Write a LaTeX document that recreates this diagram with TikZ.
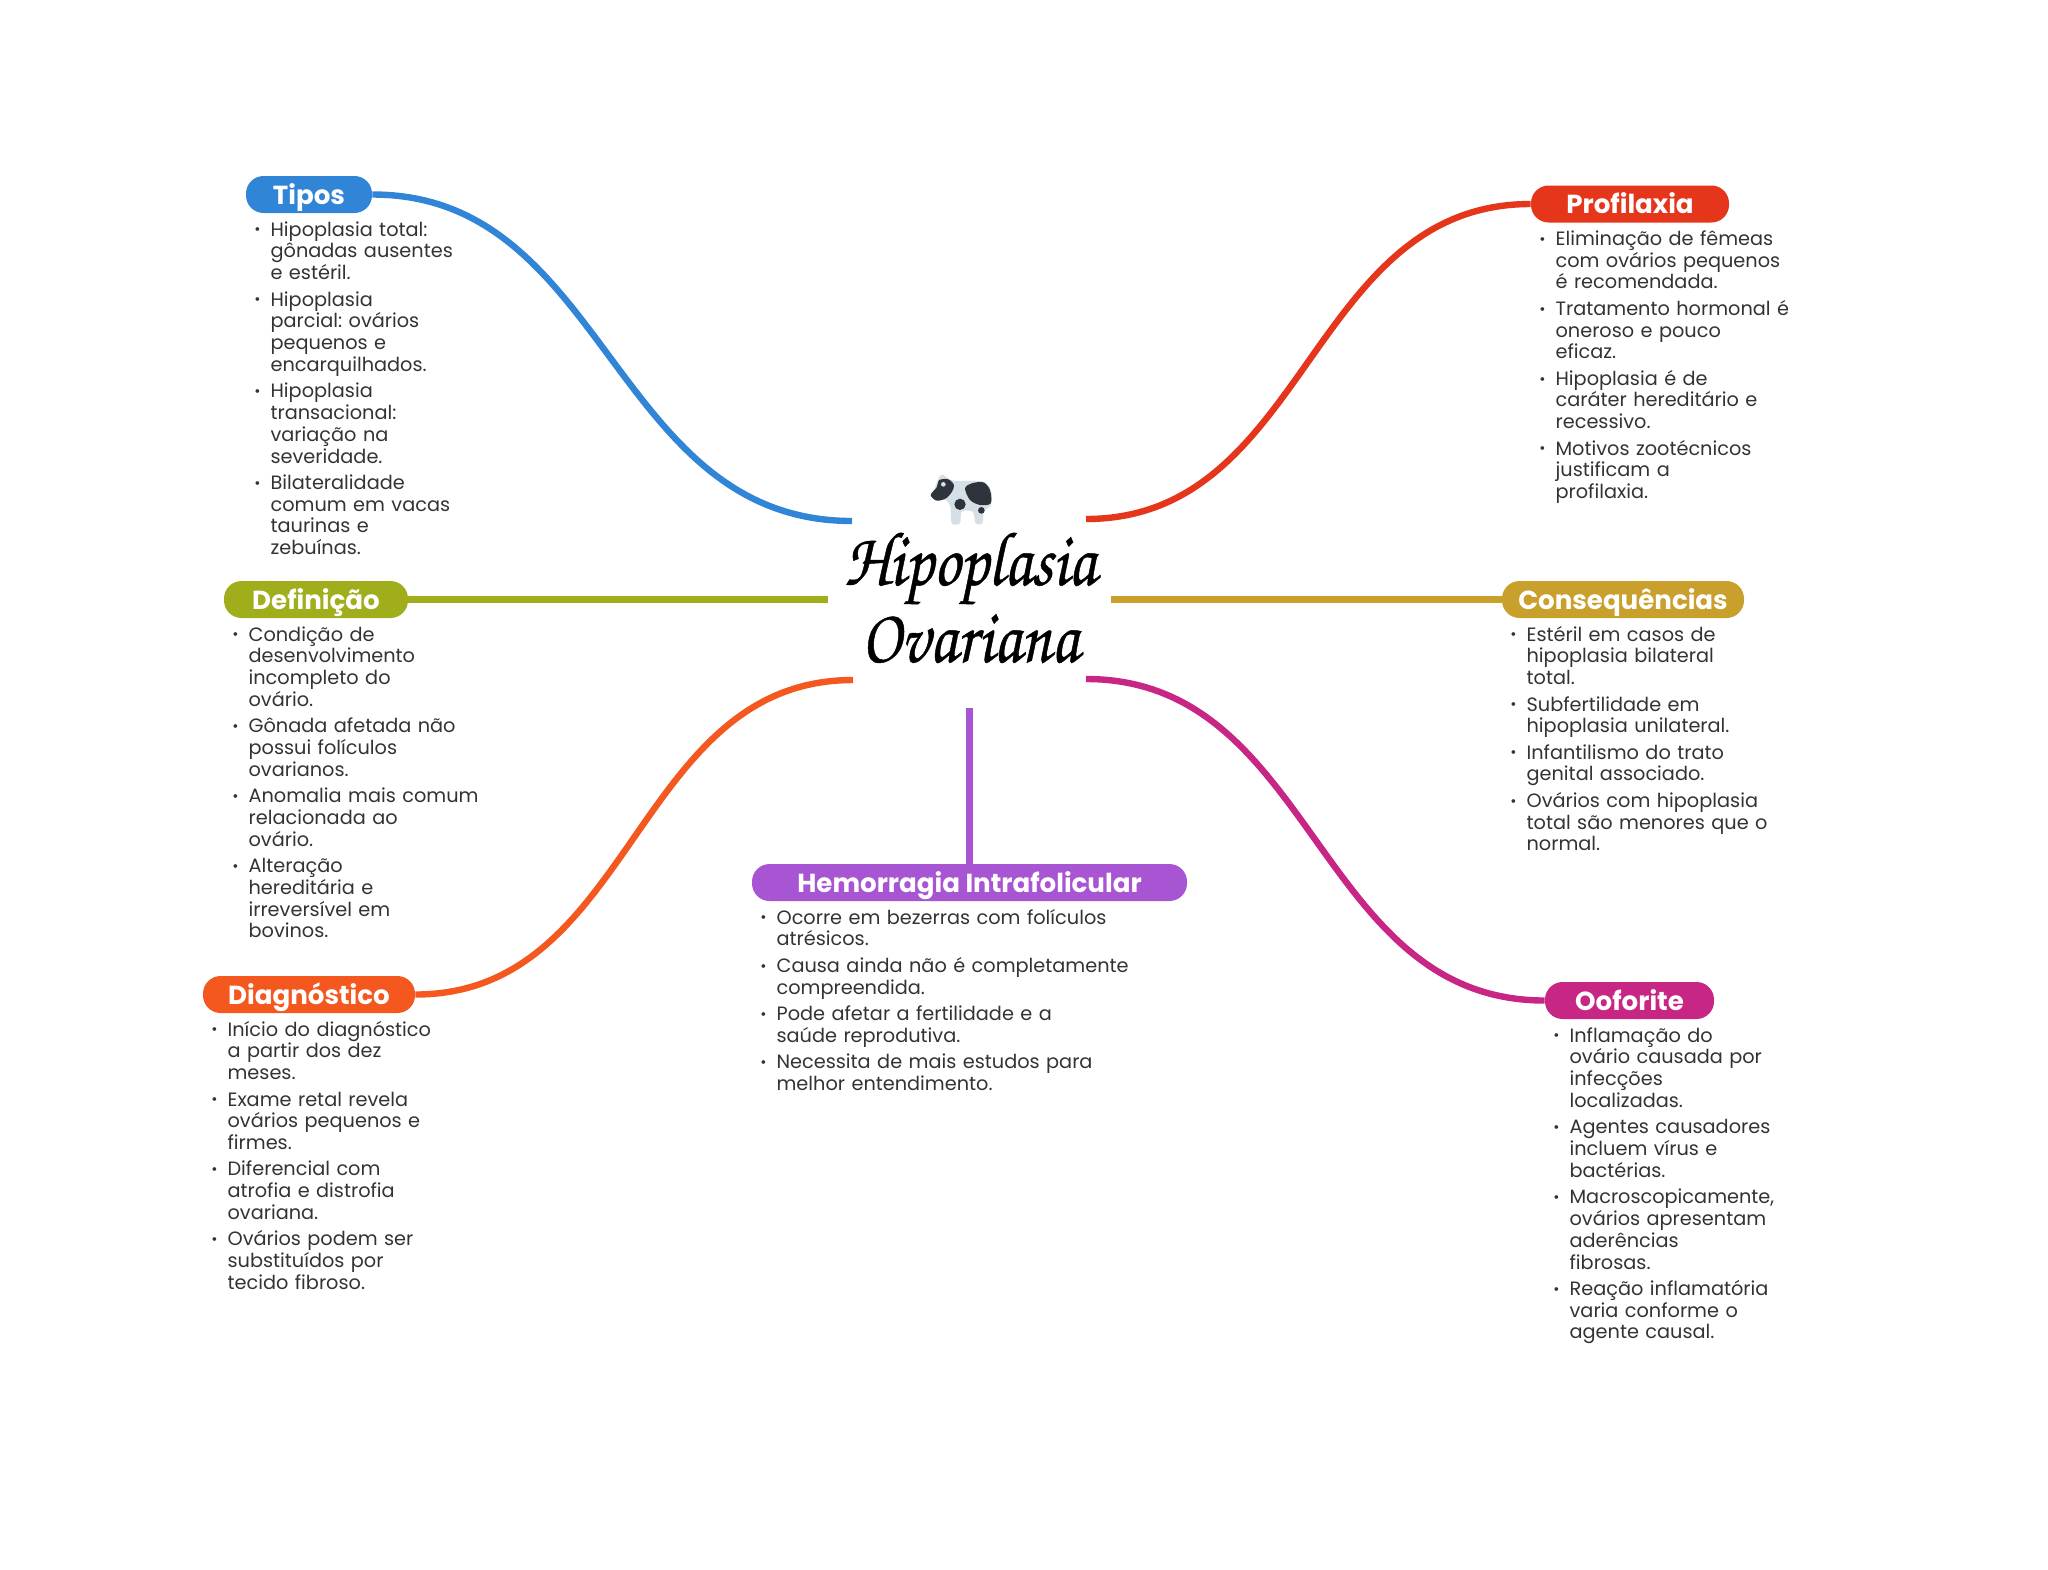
\documentclass[tikz,border=0pt]{standalone}
\usepackage{fontspec}
\setmainfont{Poppins}
\newfontfamily\titlefont[FakeBold=0.6,FakeStretch=0.85]{TeX Gyre Chorus}
\usetikzlibrary{calc}
\definecolor{cTipos}{HTML}{3085D6}
\definecolor{cProf}{HTML}{E5361B}
\definecolor{cDef}{HTML}{A0AE1C}
\definecolor{cCons}{HTML}{C9A02C}
\definecolor{cDiag}{HTML}{F4581F}
\definecolor{cHem}{HTML}{A855D4}
\definecolor{cOof}{HTML}{C72685}
\definecolor{cTxt}{HTML}{333333}
\definecolor{cCowL}{HTML}{D5E0E6}
\definecolor{cCowD}{HTML}{2F333C}
\newcommand\bitem[1]{\leftskip=12.1pt\relax\frenchspacing\leavevmode\vrule height 8pt width 0pt depth 0pt\relax\llap{{\fontsize{7.5}{7.5}\selectfont\raisebox{0.6pt}{•}}\hspace{5pt}}#1\par\vspace{2.3pt}}
\tikzset{
  x=0.5pt,y=-0.5pt,
  pill/.style={fill=#1,text=white,rounded corners=8.8pt,inner sep=0pt,minimum height=18.5pt,
    text height=11pt,text depth=1.2pt,
    font=\fontsize{13.05}{15}\selectfont\bfseries},
  listbox/.style={anchor=north west,inner sep=0pt,text=cTxt,align=left,
    font=\fontsize{9.65}{10.885}\selectfont},
  conn/.style={line width=3.2pt,draw=#1},
}
\begin{document}
\begin{tikzpicture}
\useasboundingbox (0,0) rectangle (2048,1569);
\fill[white] (0,0) rectangle (2048,1569);
% centre
\node[inner sep=0pt,align=center,font=\fontsize{38.5}{38.5}\selectfont\titlefont] (centre) at (970,598) {Hipoplasia\\Ovariana};
\coordinate (eTipos) at (852,521);
\coordinate (eProf) at (1086,519);
\coordinate (eDef) at (828,599.5);
\coordinate (eCons) at (1111,599.5);
\coordinate (eDiag) at (853,680);
\coordinate (eOof) at (1086,679);
\coordinate (eHem) at (969,708);
% pills
\node[pill=cTipos,minimum width=63pt] (tipos) at (309,194.5) {Tipos};
\node[pill=cProf,minimum width=99pt] (prof) at (1630,204) {Profilaxia};
\node[pill=cDef,minimum width=92pt] (def) at (316,599.5) {Definição};
\node[pill=cCons,minimum width=121pt] (cons) at (1623,599.5) {Consequências};
\node[pill=cDiag,minimum width=106pt] (diag) at (309,994.5) {Diagnóstico};
\node[pill=cHem,minimum width=217.5pt] (hem) at (969.5,882.5) {Hemorragia Intrafolicular};
\node[pill=cOof,minimum width=84.5pt] (oof) at (1629.5,1000.5) {Ooforite};
% connectors
\draw[conn=cTipos] (tipos.east) .. controls +(235,0) and +(-240,0) .. (eTipos);
\draw[conn=cProf] (prof.west) .. controls +(-222,0) and +(222,0) .. (eProf);
\draw[conn=cDef] (def.east) -- (eDef);
\draw[conn=cCons] (cons.west) -- (eCons);
\draw[conn=cDiag] (diag.east) .. controls +(219,0) and +(-219,0) .. (eDiag);
\draw[conn=cOof] (oof.west) .. controls +(-229,0) and +(229,0) .. (eOof);
\draw[line width=3.5pt,draw=cHem] (hem.north -| eHem) -- (eHem);
% lists
\node[listbox,text width=112pt] (lTipos) at (246,219.7) {%
\bitem{Hipoplasia total:\\gônadas ausentes\\e estéril.}
\bitem{Hipoplasia\\parcial: ovários\\pequenos e\\encarquilhados.}
\bitem{Hipoplasia\\transacional:\\variação na\\severidade.}
\bitem{Bilateralidade\\comum em vacas\\taurinas e\\zebuínas.}};
\node[listbox,text width=136pt] (lProf) at (1531,229) {%
\bitem{Eliminação de fêmeas\\com ovários pequenos\\é recomendada.}
\bitem{Tratamento hormonal é\\oneroso e pouco\\eficaz.}
\bitem{Hipoplasia é de\\caráter hereditário e\\recessivo.}
\bitem{Motivos zootécnicos\\justificam a\\profilaxia.}};
\node[listbox,text width=134pt] (lDef) at (224,624.7) {%
\bitem{Condição de\\desenvolvimento\\incompleto do\\ovário.}
\bitem{Gônada afetada não\\possui folículos\\ovarianos.}
\bitem{Anomalia mais comum\\relacionada ao\\ovário.}
\bitem{Alteração\\hereditária e\\irreversível em\\bovinos.}};
\node[listbox,text width=138pt] (lCons) at (1502,624.7) {%
\bitem{Estéril em casos de\\hipoplasia bilateral\\total.}
\bitem{Subfertilidade em\\hipoplasia unilateral.}
\bitem{Infantilismo do trato\\genital associado.}
\bitem{Ovários com hipoplasia\\total são menores que o\\normal.}};
\node[listbox,text width=121pt] (lDiag) at (203,1019.7) {%
\bitem{Início do diagnóstico\\a partir dos dez\\meses.}
\bitem{Exame retal revela\\ovários pequenos e\\firmes.}
\bitem{Diferencial com\\atrofia e distrofia\\ovariana.}
\bitem{Ovários podem ser\\substituídos por\\tecido fibroso.}};
\node[listbox,text width=194pt] (lHem) at (752,907.7) {%
\bitem{Ocorre em bezerras com folículos\\atrésicos.}
\bitem{Causa ainda não é completamente\\compreendida.}
\bitem{Pode afetar a fertilidade e a\\saúde reprodutiva.}
\bitem{Necessita de mais estudos para\\melhor entendimento.}};
\node[listbox,text width=123pt] (lOof) at (1545,1025.7) {%
\bitem{Inflamação do\\ovário causada por\\infecções\\localizadas.}
\bitem{Agentes causadores\\incluem vírus e\\bactérias.}
\bitem{Macroscopicamente,\\ovários apresentam\\aderências\\fibrosas.}
\bitem{Reação inflamatória\\varia conforme o\\agente causal.}};
% cow
\begin{scope}[shift={(820,450)},scale=1/3]
\fill[cCowL] plot[smooth cycle,tension=0.5] coordinates {(362,75) (400,92) (490,95) (515,130) (512,165) (492,185) (487,220) (467,220) (458,185) (425,185) (420,220) (395,220) (392,172) (378,150) (340,140)};
\fill[cCowD] plot[smooth cycle] coordinates {(350,112) (358,90) (385,88) (402,105) (396,125) (378,145) (350,152) (332,135)};
\fill[cCowL] (370,103) circle (7);
\fill[cCowD] plot[smooth cycle] coordinates {(435,115) (455,100) (490,97) (510,120) (512,160) (480,165) (450,150)};
\fill[cCowD] (420,163) circle (17);
\fill[cCowD] (484,181) circle (10);
\end{scope}
\end{tikzpicture}
\end{document}
